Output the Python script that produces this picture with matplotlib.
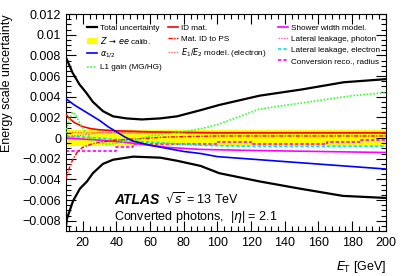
import numpy as np
import matplotlib
matplotlib.use('Agg')
import matplotlib.pyplot as plt
from matplotlib.ticker import MultipleLocator, FuncFormatter
from matplotlib.patches import Patch
from matplotlib.lines import Line2D

plt.rcParams['font.family'] = ['Liberation Sans', 'DejaVu Sans']

# Total uncertainty envelope
et_up = [10, 14, 18, 22, 26, 32, 38, 46, 55, 66, 76, 90, 101, 125, 150, 175, 200]
total_up = [0.0078, 0.0063, 0.0052, 0.0044, 0.0035, 0.0026, 0.0021, 0.0019, 0.0018,
            0.0019, 0.0021, 0.0027, 0.0032, 0.0041, 0.0047, 0.0054, 0.0057]
et_dn = [10, 10.6, 14.2, 18.3, 22.5, 26, 32, 38, 46, 50, 66, 76, 90, 101, 125, 149, 174.5, 200]
total_dn = [-0.0086, -0.0078, -0.0061, -0.0049, -0.0042, -0.0034, -0.0025, -0.0021, -0.0019,
            -0.0018, -0.0019, -0.0022, -0.0027, -0.0034, -0.0042, -0.0049, -0.0056, -0.0058]

# Z->ee calibration band
zee_edges = [10, 200]
zee_half = [0.00075, 0.00075]

# individual components
et_alpha = [10, 15, 20, 25, 30, 35, 40, 45, 50, 60, 70, 80, 90, 100, 125, 150, 175, 200]
alpha12 = [0.0038, 0.0032, 0.0027, 0.0022, 0.0017, 0.0011, 0.0006, 0.0001, -0.0003, -0.0007,
           -0.0010, -0.0013, -0.0015, -0.0018, -0.0021, -0.0024, -0.0027, -0.0030]

et_l1 = [10, 12, 14, 16, 18, 22, 26, 30, 35, 40, 50, 60, 75, 90, 100, 125, 150, 180, 200]
l1gain = [0.0005, 0.0018, 0.0025, 0.0022, 0.0015, 0.0005, -0.0002, -0.0005, -0.0006, -0.0005,
          -0.0002, 0.0002, 0.0005, 0.0009, 0.0013, 0.0028, 0.0034, 0.0041, 0.0044]

et_idmat = [10, 12, 15, 20, 25, 30, 40, 60, 100, 200]
idmat = [0.0023, 0.0019, 0.0015, 0.0011, 0.0009, 0.0008, 0.0007, 0.0006, 0.0005, 0.0005]

et_idps = [10, 12, 14, 17, 20, 25, 30, 40, 50, 70, 100, 200]
idtops = [-0.0039, -0.0029, -0.0021, -0.0013, -0.0009, -0.0006, -0.0004, -0.0002, -0.0001,
          0.0001, 0.0002, 0.0002]

et_e1e2 = [10, 200]
e1e2 = [0.0006, 0.0006]

et_shower = [10, 30, 50, 70, 90, 120, 160, 200]
shower = [0.0000, -0.0002, -0.0005, -0.0009, -0.0011, -0.0012, -0.0013, -0.0014]

et_latph = [10, 20, 30, 200]
lat_photon = [0.0001, 0.0003, 0.0005, 0.0005]

et_latel = [10, 30, 50, 70, 90, 120, 200]
lat_electron = [0.0002, 0.0000, -0.0003, -0.0005, -0.0007, -0.0008, -0.0008]

et_conv = [10, 40, 50, 100, 120, 165, 185, 200]
conv_radius = [-0.0013, -0.0009, -0.0006, -0.0004, -0.0006, -0.0004, -0.0002, -0.0002]

fig = plt.figure(figsize=(4.07, 2.76), dpi=100)
ax = fig.add_axes([0.162, 0.163, 0.786, 0.786])

ax.fill_between(zee_edges, [-h for h in zee_half], zee_half, color='#ffff00', lw=0, zorder=1)

ax.plot(et_conv, conv_radius, color='#ff00ff', ls=(0, (2, 1.2)), lw=1.2, drawstyle='steps-post', zorder=2)
ax.plot(et_latel, lat_electron, color='#00e5e5', ls=(0, (2, 1.2)), lw=1.2, zorder=2)
ax.plot(et_latph, lat_photon, color='#ff55dd', ls=(0, (1, 1)), lw=1.0, zorder=2)
ax.plot(et_shower, shower, color='#ff00ff', ls='-', lw=1.2, zorder=2)
ax.plot(et_e1e2, e1e2, color='#ff6666', ls=(0, (1, 1)), lw=1.0, zorder=2)
ax.plot(et_idps, idtops, color='#ff0000', ls=(0, (3, 1, 1, 1)), lw=1.0, zorder=3)
ax.plot(et_idmat, idmat, color='#ff0000', ls='-', lw=1.2, zorder=3)
ax.plot(et_l1, l1gain, color='#33ff33', ls=(0, (1, 1)), lw=1.2, zorder=3)
ax.plot(et_alpha, alpha12, color='#0000ff', ls='-', lw=1.2, zorder=4)
ax.plot(et_up, total_up, color='black', lw=1.6, zorder=5)
ax.plot(et_dn, total_dn, color='black', lw=1.6, zorder=5)

ax.set_xlim(10, 200)
ax.set_ylim(-0.009, 0.012)

ax.xaxis.set_major_locator(MultipleLocator(20))
ax.xaxis.set_minor_locator(MultipleLocator(4))
ax.yaxis.set_major_locator(MultipleLocator(0.002))
ax.yaxis.set_minor_locator(MultipleLocator(0.0005))


def yfmt(v, pos):
    s = '%g' % round(v, 4)
    return s.replace('-', '\u2212')


ax.yaxis.set_major_formatter(FuncFormatter(yfmt))
ax.tick_params(which='both', direction='in', top=True, right=True, labelsize=9)
ax.tick_params(which='major', length=7, width=0.8)
ax.tick_params(which='minor', length=3.5, width=0.8)
ax.tick_params(axis='x', pad=4)

ax.set_xlabel(r'$E_{\mathrm{T}}$ [GeV]', fontsize=9, ha='right')
ax.xaxis.set_label_coords(1.0, -0.13)
ax.set_ylabel('Energy scale uncertainty', fontsize=9, ha='right')
ax.yaxis.set_label_coords(-0.165, 1.0)

# legends in three columns
leg_kw = dict(frameon=False, fontsize=5.9, handlelength=1.2, handletextpad=0.35,
              labelspacing=0.42, borderaxespad=0, loc='upper left')
h1 = [Line2D([], [], color='black', lw=1.6),
      Patch(facecolor='#ffff00', edgecolor='none'),
      Line2D([], [], color='#0000ff', lw=1.2),
      Line2D([], [], color='#33ff33', lw=1.2, ls=(0, (1, 1)))]
l1 = ['Total uncertainty', r'$Z\,\rightarrow\,ee$ calib.', r'$\alpha_{1/2}$', 'L1 gain (MG/HG)']
leg1 = ax.legend(h1, l1, bbox_to_anchor=(0.056, 0.97), **leg_kw)
ax.add_artist(leg1)

h2 = [Line2D([], [], color='#ff0000', lw=1.2),
      Line2D([], [], color='#ff0000', lw=1.0, ls=(0, (3, 1, 1, 1))),
      Line2D([], [], color='#ff6666', lw=1.0, ls=(0, (1, 1)))]
l2 = ['ID mat.', 'Mat. ID to PS', r'$E_1/E_2$ model. (electron)']
leg2 = ax.legend(h2, l2, bbox_to_anchor=(0.309, 0.97), **leg_kw)
ax.add_artist(leg2)

h3 = [Line2D([], [], color='#ff00ff', lw=1.2),
      Line2D([], [], color='#ff55dd', lw=1.0, ls=(0, (1, 1))),
      Line2D([], [], color='#00e5e5', lw=1.2, ls=(0, (2, 1.2))),
      Line2D([], [], color='#ff00ff', lw=1.2, ls=(0, (2, 1.2)))]
l3 = ['Shower width model.', 'Lateral leakage, photon', 'Lateral leakage, electron',
      'Conversion reco., radius']
leg3 = ax.legend(h3, l3, bbox_to_anchor=(0.653, 0.97), **leg_kw)

ax.text(0.15, 0.145, 'ATLAS', transform=ax.transAxes, fontsize=10, fontweight='bold',
        fontstyle='italic', va='center')
ax.text(0.31, 0.145, r'$\sqrt{s}$ = 13 TeV', transform=ax.transAxes, fontsize=9, va='center')
ax.text(0.15, 0.065, r'Converted photons,  |$\eta$| = 2.1', transform=ax.transAxes,
        fontsize=9, va='center')

fig.savefig('out.png', dpi=100)
